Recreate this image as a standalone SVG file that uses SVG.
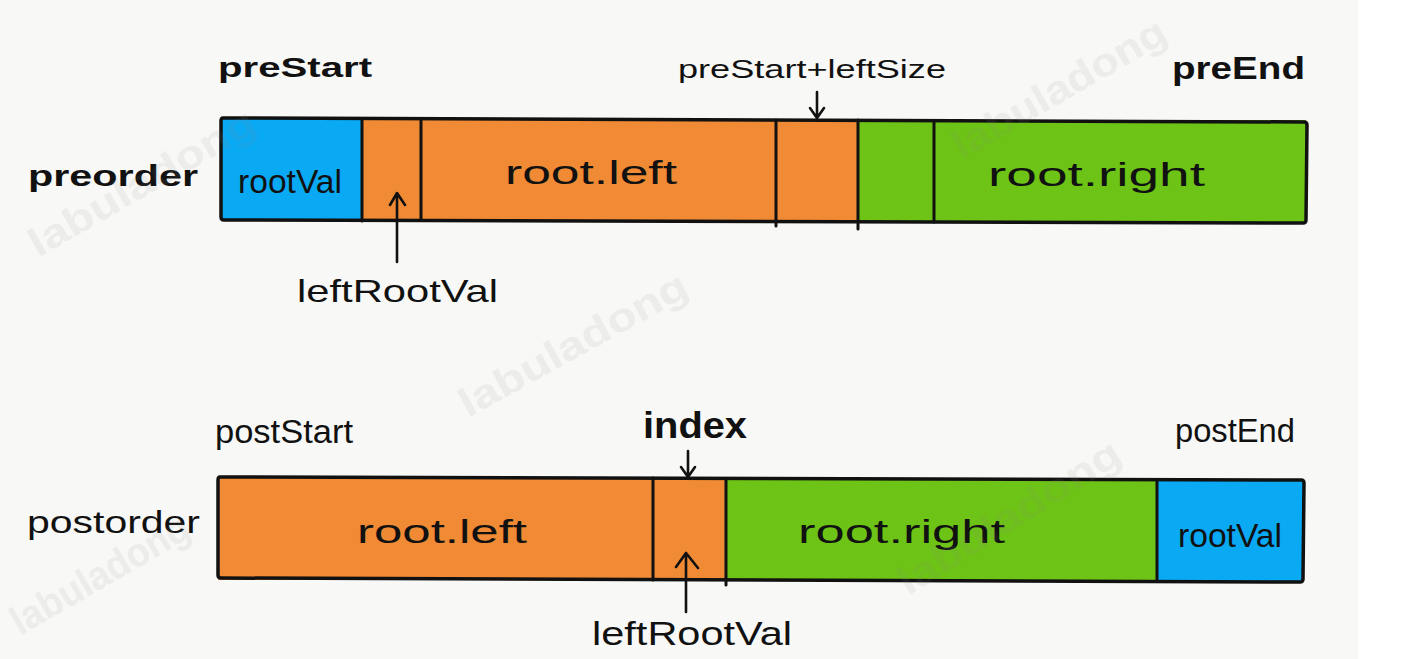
<svg xmlns="http://www.w3.org/2000/svg" width="1401" height="659" viewBox="0 0 1401 659">
  <style>
    text { font-family: "Liberation Sans", Arial, sans-serif; fill: #111; }
    .b { font-weight: bold; }
    .blue { fill: #0aa9f4; }
    .orange { fill: #f08a34; }
    .green { fill: #6dc416; }
    .div { stroke: #111; stroke-width: 3; stroke-linecap: round; fill: none; }
    .frame { fill: none; stroke: #111; stroke-width: 3.5; }
    .arrow { stroke: #111; stroke-width: 2.6; fill: none; stroke-linecap: round; stroke-linejoin: round; }
    .wm { font-weight: bold; font-size: 40px; fill: #8a8a8a; opacity: 0.1; }
  </style>

  <!-- paper background -->
  <rect x="0" y="0" width="1401" height="659" fill="#ffffff"/>
  <rect x="0" y="0" width="1358" height="659" fill="#f8f8f6"/>

  <!-- preorder array -->
  <g id="preorder">
    <text class="b" x="28" y="186" font-size="30" textLength="170" lengthAdjust="spacingAndGlyphs">preorder</text>
    <g id="pre-root">
      <rect class="blue" x="221" y="119" width="141" height="102"/>
      <text x="238" y="193" font-size="33" textLength="104" lengthAdjust="spacingAndGlyphs">rootVal</text>
    </g>
    <g id="pre-left">
      <rect class="orange" x="362" y="119" width="496" height="102"/>
      <text x="505" y="184" font-size="34" textLength="172" lengthAdjust="spacingAndGlyphs">root.left</text>
    </g>
    <g id="pre-right">
      <rect class="green" x="858" y="120" width="448" height="102"/>
      <text x="988" y="186" font-size="34" textLength="217" lengthAdjust="spacingAndGlyphs">root.right</text>
    </g>
    <path class="div" d="M362 119 V221 M421 119 V220 M776 120 V226 M858 120 V229 M934 121 V222"/>
    <path class="frame" d="M223 118 L1304 122 Q1307 122 1307 125 L1306 220 Q1306 223 1303 223 L224 220 Q221 220 221 217 L221 121 Q221 118 223 118 Z"/>
  </g>

  <!-- preorder index labels -->
  <g id="label-preStart">
    <text class="b" x="218" y="77" font-size="27" textLength="154" lengthAdjust="spacingAndGlyphs">preStart</text>
  </g>
  <g id="label-preStartLeftSize">
    <text x="678" y="78" font-size="25" textLength="268" lengthAdjust="spacingAndGlyphs">preStart+leftSize</text>
  </g>
  <g id="label-preEnd">
    <text class="b" x="1172" y="79" font-size="31" textLength="133" lengthAdjust="spacingAndGlyphs">preEnd</text>
  </g>
  <g id="label-pre-leftRootVal">
    <text x="297" y="302" font-size="32" textLength="201" lengthAdjust="spacingAndGlyphs">leftRootVal</text>
  </g>

  <!-- postorder array -->
  <g id="postorder">
    <text x="27" y="533" font-size="31" textLength="173" lengthAdjust="spacingAndGlyphs">postorder</text>
    <g id="post-left">
      <rect class="orange" x="218" y="478" width="508" height="102"/>
      <text x="357" y="543" font-size="34" textLength="170" lengthAdjust="spacingAndGlyphs">root.left</text>
    </g>
    <g id="post-right">
      <rect class="green" x="726" y="479" width="431" height="102"/>
      <text x="798" y="543" font-size="34" textLength="207" lengthAdjust="spacingAndGlyphs">root.right</text>
    </g>
    <g id="post-root">
      <rect class="blue" x="1157" y="480" width="146" height="101"/>
      <text x="1178" y="547" font-size="34" textLength="104" lengthAdjust="spacingAndGlyphs">rootVal</text>
    </g>
    <path class="div" d="M653 478 V580 M726 479 V585 M1157 480 V581"/>
    <path class="frame" d="M220 477 L1301 480 Q1304 480 1304 483 L1303 579 Q1303 582 1300 582 L221 578 Q218 578 218 575 L218 480 Q218 477 220 477 Z"/>
  </g>

  <!-- postorder index labels -->
  <g id="label-postStart">
    <text x="215" y="443" font-size="33" textLength="138" lengthAdjust="spacingAndGlyphs">postStart</text>
  </g>
  <g id="label-index">
    <text class="b" x="643" y="438" font-size="36" textLength="104" lengthAdjust="spacingAndGlyphs">index</text>
  </g>
  <g id="label-postEnd">
    <text x="1175" y="442" font-size="34" textLength="120" lengthAdjust="spacingAndGlyphs">postEnd</text>
  </g>
  <g id="label-post-leftRootVal">
    <text x="592" y="645" font-size="34" textLength="200" lengthAdjust="spacingAndGlyphs">leftRootVal</text>
  </g>

  <!-- pointer arrows -->
  <g id="connectors">
    <path class="arrow" d="M817 92 V118 M810 108 L817 118 L824 108"/>
    <path class="arrow" d="M397 262 V194 M390 205 L397 193 L405 205"/>
    <path class="arrow" d="M688 451 V477 M681 467 L688 477 L695 467"/>
    <path class="arrow" d="M686 612 V553 M676 567 L686 553 L698 568" stroke-width="3"/>
  </g>

  <!-- watermark -->
  <g id="watermark">
    <text class="wm" transform="translate(38 258) rotate(-30)" textLength="255" lengthAdjust="spacingAndGlyphs">labuladong</text>
    <text class="wm" transform="translate(468 418) rotate(-29)" textLength="255" lengthAdjust="spacingAndGlyphs">labuladong</text>
    <text class="wm" transform="translate(962 160) rotate(-30)" textLength="240" lengthAdjust="spacingAndGlyphs">labuladong</text>
    <text class="wm" transform="translate(908 596) rotate(-32)" textLength="255" lengthAdjust="spacingAndGlyphs">labuladong</text>
    <text class="wm" transform="translate(20 636) rotate(-30)" textLength="200" lengthAdjust="spacingAndGlyphs">labuladong</text>
  </g>
</svg>
